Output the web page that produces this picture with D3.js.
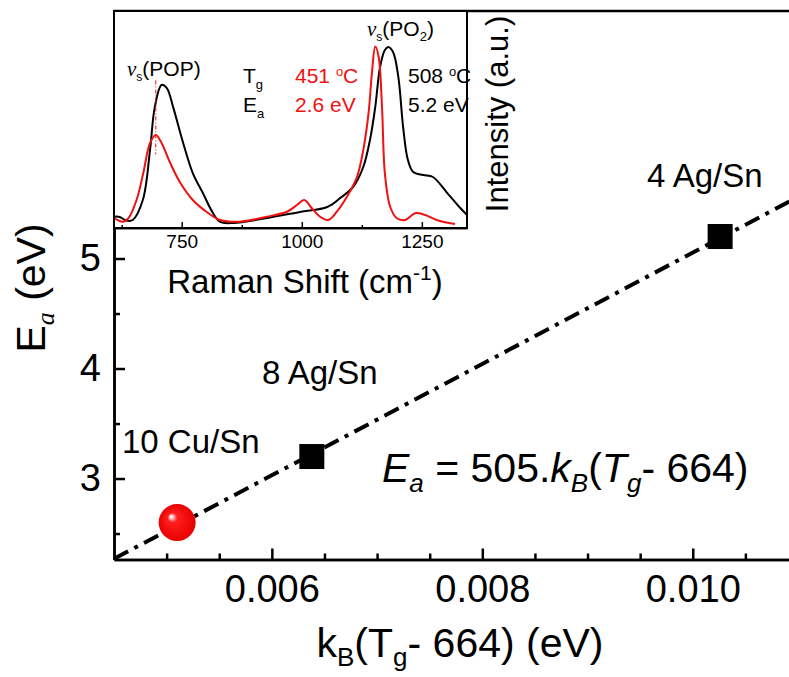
<!DOCTYPE html>
<html>
<head>
<meta charset="utf-8">
<script src="https://cdn.jsdelivr.net/npm/d3@7"></script>
<style>
  body { margin: 0; background: #fff; }
  svg { display: block; font-family: "Liberation Sans", Arial, sans-serif; }
</style>
</head>
<body>
<div id="chart"></div>
<script>
// main plot: activation energy vs kB(Tg - 664)
var sampleNames = ["10 Cu/Sn", "8 Ag/Sn", "4 Ag/Sn"];
var sampleX = [0.0051, 0.00638, 0.01026];
var sampleY = [2.6, 3.2, 5.2];
var fitX = [0.0045, 0.011];   // fit line Ea = 505.kB(Tg-664), read at the frame edges
var fitY = [2.27, 5.56];
var xMajor = [0.006, 0.008, 0.010];
var xMinor = [0.005, 0.0055, 0.0065, 0.007, 0.0075, 0.0085, 0.009, 0.0095, 0.0105];
var yMajor = [3, 4, 5];
var yMinor = [2.5, 3.5, 4.5, 5.5];

// inset: Raman spectra
var ramanBlackX = [609, 621, 635, 648, 669, 684, 694, 708, 719, 732, 753, 773, 794, 815, 830, 857, 928, 996, 1053, 1080, 1107, 1128, 1142, 1153, 1163, 1173, 1180, 1190, 1201, 1211, 1221, 1232, 1253, 1273, 1303, 1330, 1344];
var ramanBlackY = [0.052, 0.051, 0.034, 0.037, 0.129, 0.359, 0.558, 0.659, 0.645, 0.558, 0.392, 0.253, 0.161, 0.069, 0.028, 0.023, 0.046, 0.074, 0.097, 0.138, 0.189, 0.281, 0.406, 0.558, 0.742, 0.820, 0.834, 0.811, 0.696, 0.465, 0.313, 0.258, 0.244, 0.235, 0.161, 0.092, 0.060];
var ramanRedX = [609, 628, 639, 656, 670, 684, 696, 708, 726, 746, 773, 802, 830, 871, 927, 969, 990, 1005, 1021, 1038, 1055, 1073, 1094, 1115, 1128, 1139, 1146, 1153, 1160, 1167, 1173, 1184, 1198, 1215, 1236, 1257, 1281, 1319];
var ramanRedY = [0.045, 0.029, 0.045, 0.129, 0.253, 0.392, 0.429, 0.392, 0.300, 0.212, 0.129, 0.074, 0.037, 0.029, 0.052, 0.075, 0.106, 0.129, 0.091, 0.052, 0.037, 0.075, 0.144, 0.236, 0.359, 0.529, 0.713, 0.836, 0.789, 0.559, 0.252, 0.098, 0.045, 0.037, 0.068, 0.060, 0.037, 0.018];
var insetTicks = [750, 1000, 1250];
var insetMinor = [625, 875, 1125];

var w = 789, h = 677;
var red = "#f01010";

var svg = d3.select("#chart").append("svg")
    .attr("width", w)
    .attr("height", h);

var defs = svg.append("defs");
var grad = defs.append("radialGradient")
    .attr("id", "sphere")
    .attr("cx", "50%").attr("cy", "50%").attr("r", "50%")
    .attr("fx", "33%").attr("fy", "33%");
grad.append("stop").attr("offset", "0%").attr("stop-color", "#ffffff");
grad.append("stop").attr("offset", "6%").attr("stop-color", "#ffe4e4");
grad.append("stop").attr("offset", "14%").attr("stop-color", "#ff9a9a");
grad.append("stop").attr("offset", "26%").attr("stop-color", "#ff1e1e");
grad.append("stop").attr("offset", "100%").attr("stop-color", "#e80000");

var x = d3.scaleLinear().domain([0.0045, 0.011]).range([114, 798]);
var y = d3.scaleLinear().domain([2.264, 7.25]).range([559.5, 11]);

// fit line (dash-dot)
svg.append("line")
    .attr("x1", x(fitX[0])).attr("y1", y(fitY[0]))
    .attr("x2", x(fitX[1])).attr("y2", y(fitY[1]))
    .attr("stroke", "#000")
    .attr("stroke-width", 4)
    .attr("stroke-dasharray", "16,7,4,7");

// axes
var gx = svg.append("g").attr("transform", "translate(0," + y.range()[0] + ")");
gx.call(d3.axisBottom(x).tickValues(xMinor).tickSize(-6).tickSizeOuter(0).tickFormat(""));
gx.append("g").call(d3.axisBottom(x).tickValues(xMajor).tickSize(-11).tickSizeOuter(0).tickPadding(16).tickFormat(d3.format(".3f")));

var gy = svg.append("g").attr("transform", "translate(" + x.range()[0] + ",0)");
gy.call(d3.axisLeft(y).tickValues(yMinor).tickSize(-6).tickSizeOuter(0).tickFormat(""));
gy.append("g").call(d3.axisLeft(y).tickValues(yMajor).tickSize(-11).tickSizeOuter(0).tickPadding(13).tickFormat(d3.format("d")));

svg.selectAll(".domain, .tick line").attr("stroke", "#000").attr("stroke-width", 2.5);
svg.selectAll(".tick text").style("font-size", "38px").attr("fill", "#000");

// top frame line
svg.append("line")
    .attr("x1", x.range()[0]).attr("x2", w)
    .attr("y1", y.range()[1]).attr("y2", y.range()[1])
    .attr("stroke", "#000").attr("stroke-width", 2.5);

// axis titles
var xt = svg.append("text")
    .attr("x", 460).attr("y", 657)
    .attr("text-anchor", "middle")
    .style("font-size", "41px");
xt.append("tspan").text("k");
xt.append("tspan").attr("dy", 9).style("font-size", "26px").text("B");
xt.append("tspan").attr("dy", -9).text("(T");
xt.append("tspan").attr("dy", 9).style("font-size", "26px").text("g");
xt.append("tspan").attr("dy", -9).text("- 664) (eV)");

var yt = svg.append("text")
    .attr("transform", "translate(45,288) rotate(-90)")
    .attr("text-anchor", "middle")
    .style("font-size", "41px");
yt.append("tspan").text("E");
yt.append("tspan").attr("dy", 9).style("font-size", "26px").style("font-style", "italic").style("font-family", "'Liberation Serif', serif").text("a");
yt.append("tspan").attr("dy", -9).text(" (eV)");

// points
var pts = sampleX.map((d, i) => ({ name: sampleNames[i], x: d, y: sampleY[i] }));

svg.selectAll("rect.pt")
    .data(pts.filter(d => d.name !== "10 Cu/Sn"))
    .enter().append("rect")
    .attr("class", "pt")
    .attr("x", d => x(d.x) - 12.5)
    .attr("y", d => y(d.y) - 12.5)
    .attr("width", 25).attr("height", 25)
    .attr("fill", "#000");

svg.selectAll("circle.pt")
    .data(pts.filter(d => d.name === "10 Cu/Sn"))
    .enter().append("circle")
    .attr("class", "pt")
    .attr("cx", d => x(d.x))
    .attr("cy", d => y(d.y))
    .attr("r", 18.5)
    .attr("fill", "url(#sphere)");

// point labels
var labelPos = { "10 Cu/Sn": [122, 453], "8 Ag/Sn": [262, 384], "4 Ag/Sn": [647, 187] };
svg.selectAll("text.lab")
    .data(pts)
    .enter().append("text")
    .attr("class", "lab")
    .attr("x", d => labelPos[d.name][0])
    .attr("y", d => labelPos[d.name][1])
    .style("font-size", "33px")
    .text(d => d.name);

// equation
var eq = svg.append("text")
    .attr("x", 382).attr("y", 482)
    .style("font-size", "41px");
eq.append("tspan").style("font-style", "italic").text("E");
eq.append("tspan").attr("dy", 10).style("font-size", "26px").style("font-style", "italic").text("a");
eq.append("tspan").attr("dy", -10).text(" = 505.");
eq.append("tspan").style("font-style", "italic").text("k");
eq.append("tspan").attr("dy", 10).style("font-size", "26px").style("font-style", "italic").text("B");
eq.append("tspan").attr("dy", -10).text("(");
eq.append("tspan").style("font-style", "italic").text("T");
eq.append("tspan").attr("dy", 10).style("font-size", "26px").style("font-style", "italic").text("g");
eq.append("tspan").attr("dy", -10).text("- 664)");

// ---------- inset ----------
var ix = d3.scaleLinear().domain([609, 1344]).range([114, 467]);
var iy = d3.scaleLinear().domain([0, 1]).range([228, 11]);

var inset = svg.append("g");
inset.append("rect")
    .attr("x", 114).attr("y", 11)
    .attr("width", 467 - 114).attr("height", 228 - 11)
    .attr("fill", "#fff");

var lineGen = d3.line().x(d => ix(d[0])).y(d => iy(d[1])).curve(d3.curveCatmullRom);

inset.append("path")
    .datum(ramanBlackX.map((d, i) => [d, ramanBlackY[i]]))
    .attr("d", lineGen)
    .attr("fill", "none").attr("stroke", "#000").attr("stroke-width", 2);

inset.append("path")
    .datum(ramanRedX.map((d, i) => [d, ramanRedY[i]]))
    .attr("d", lineGen)
    .attr("fill", "none").attr("stroke", red).attr("stroke-width", 2);

// POP peak marker
inset.append("line")
    .attr("x1", ix(696)).attr("x2", ix(696))
    .attr("y1", iy(0.68)).attr("y2", iy(0.34))
    .attr("stroke", red).attr("stroke-width", 1)
    .attr("stroke-dasharray", "4,2,1,2");

inset.append("rect")
    .attr("x", 114).attr("y", 11)
    .attr("width", 467 - 114).attr("height", 228 - 11)
    .attr("fill", "none").attr("stroke", "#000").attr("stroke-width", 2);

var gix = inset.append("g").attr("transform", "translate(0,228)");
gix.call(d3.axisBottom(ix).tickValues(insetMinor).tickSize(-3).tickSizeOuter(0).tickFormat(""));
gix.append("g").call(d3.axisBottom(ix).tickValues(insetTicks).tickSize(-6).tickSizeOuter(0).tickPadding(7).tickFormat(d3.format("d")));
gix.selectAll(".domain, .tick line").attr("stroke", "#000").attr("stroke-width", 1.5);
gix.selectAll(".tick text").style("font-size", "19px").attr("fill", "#000");

var rt = inset.append("text")
    .attr("x", 305).attr("y", 293)
    .attr("text-anchor", "middle")
    .style("font-size", "33px");
rt.append("tspan").text("Raman Shift (cm");
rt.append("tspan").attr("dy", -13).style("font-size", "21px").text("-1");
rt.append("tspan").attr("dy", 13).text(")");

inset.append("text")
    .attr("transform", "translate(508,114) rotate(-90)")
    .attr("text-anchor", "middle")
    .style("font-size", "31px")
    .text("Intensity (a.u.)");

// peak labels
function nuLabel(px, py, sub2) {
    var t = inset.append("text").attr("x", px).attr("y", py).style("font-size", "21px");
    t.append("tspan").style("font-family", "'Liberation Serif', serif").style("font-style", "italic").text("ν");
    t.append("tspan").attr("dy", 5).style("font-size", "12px").text("s");
    t.append("tspan").attr("dy", -5).text(sub2 ? "(PO" : "(POP)");
    if (sub2) {
        t.append("tspan").attr("dy", 5).style("font-size", "13px").text("2");
        t.append("tspan").attr("dy", -5).text(")");
    }
}
nuLabel(127, 76, false);
nuLabel(367, 36, true);

function subLabel(px, py, main, sub) {
    var t = inset.append("text").attr("x", px).attr("y", py).style("font-size", "21px");
    t.append("tspan").text(main);
    t.append("tspan").attr("dy", 6).style("font-size", "13px").text(sub);
}
subLabel(243, 83, "T", "g");
subLabel(243, 112, "E", "a");

function degLabel(px, py, num, col) {
    var t = inset.append("text").attr("x", px).attr("y", py).attr("fill", col).style("font-size", "21px");
    t.append("tspan").text(num + " ");
    t.append("tspan").attr("dy", -7).style("font-size", "13px").text("o");
    t.append("tspan").attr("dy", 7).text("C");
}
degLabel(295, 83, "451", red);
degLabel(408, 83, "508", "#000");

inset.append("text").attr("x", 295).attr("y", 112).attr("fill", red).style("font-size", "21px").text("2.6 eV");
inset.append("text").attr("x", 408).attr("y", 112).attr("fill", "#000").style("font-size", "21px").text("5.2 eV");
</script>
</body>
</html>
